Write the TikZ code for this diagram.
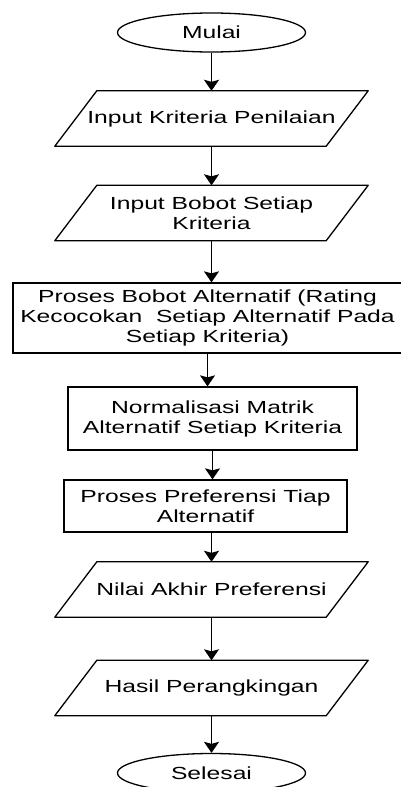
\documentclass[tikz,border=0pt]{standalone}
\usepackage{fontspec}
\setmainfont{Liberation Sans}[FakeStretch=1.41]
\usetikzlibrary{shapes.geometric, positioning, arrows.meta}

\tikzset{
  terminal/.style={ellipse, draw, line width=1.3pt, minimum width=188pt, minimum height=39pt},
  inout/.style={rectangle, minimum width=271pt, minimum height=55pt, align=center},
  jajar/.style={line width=1.3pt, line join=round},
  proses/.style={rectangle, draw, line width=1.3pt, align=center},
  panah/.style={-{Stealth[length=11pt,width=15pt,inset=2pt]}, line width=1.3pt}
}

\begin{document}
\begin{tikzpicture}[on grid, font=\fontsize{17.5}{20}\selectfont]
  \useasboundingbox (0,0) rectangle (401pt,-787pt);
  \node[terminal] (mulai) at (211.5pt,-32.5pt) {Mulai};
  \node[inout] (kriteria) [below=86pt of mulai] {Input Kriteria Penilaian};
  \node[inout] (bobot) [below=94.5pt of kriteria] {Input Bobot Setiap\\Kriteria};
  \node[proses, minimum width=389pt, minimum height=70pt] (rating)
    [below=105pt of bobot, xshift=-4pt]
    {Proses Bobot Alternatif (Rating\\Kecocokan~ Setiap Alternatif Pada\\Setiap Kriteria)};
  \node[proses, minimum width=289pt, minimum height=63pt] (normalisasi)
    [below=100.5pt of rating, xshift=5pt] {Normalisasi Matrik\\Alternatif Setiap Kriteria};
  \node[proses, minimum width=283pt, minimum height=52pt] (preferensi)
    [below=87.5pt of normalisasi, xshift=-7pt] {Proses Preferensi Tiap\\Alternatif};
  \node[inout] (nilai) [below=83.5pt of preferensi, xshift=6pt] {Nilai Akhir Preferensi};
  \node[inout] (hasil) [below=98.5pt of nilai] {Hasil Perangkingan};
  \node[terminal] (selesai) [below=85pt of hasil] {Selesai};

  % jajar genjang untuk input/output
  \foreach \n in {kriteria, bobot, nilai, hasil}
    \draw[jajar] ([xshift=-21pt]\n.south west) -- ([xshift=-21pt]\n.south east)
      -- ([xshift=21pt]\n.north east) -- ([xshift=21pt]\n.north west) -- cycle;

  \draw[panah] (mulai) -- (kriteria);
  \draw[panah] (kriteria) -- (bobot);
  \draw[panah] (bobot) -- (bobot |- rating.north);
  \draw[panah] (rating) -- (rating |- normalisasi.north);
  \draw[panah] (normalisasi) -- (normalisasi |- preferensi.north);
  \draw[panah] (nilai |- preferensi.south) -- (nilai);
  \draw[panah] (nilai) -- (hasil);
  \draw[panah] (hasil) -- (selesai);
\end{tikzpicture}
\end{document}
